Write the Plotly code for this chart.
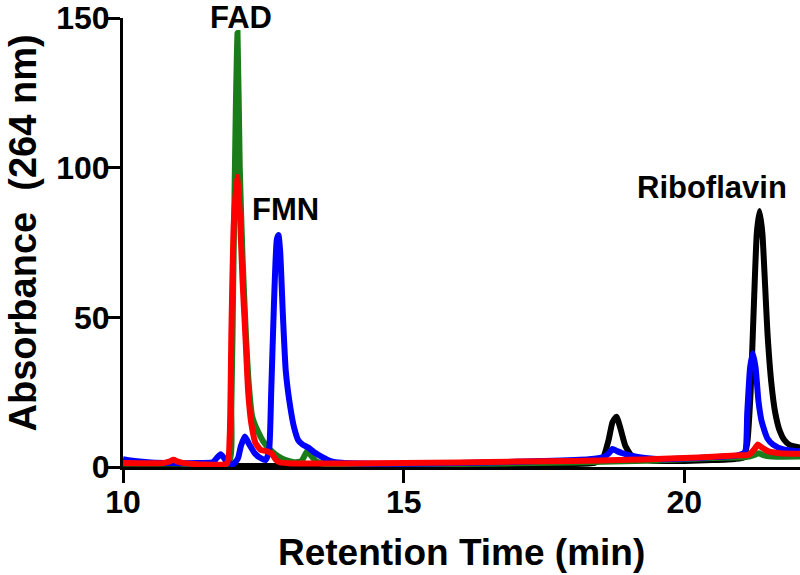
import plotly.graph_objects as go

# ---- data ----
black_x = [10, 11, 12, 13, 14, 15, 16, 17, 18, 18.4, 18.55, 18.65, 18.72, 18.79, 18.86, 18.95, 19.05, 19.2, 19.4,
           19.7, 20.0, 20.5, 20.9, 21.05, 21.12, 21.18, 21.24, 21.29, 21.34, 21.39, 21.44, 21.48, 21.55, 21.62,
           21.7, 21.78, 21.88, 22.06]
black_y = [0.3, 0.3, 0.3, 0.3, 0.4, 0.5, 0.6, 0.8, 1.0, 1.4, 3, 9, 15, 16.8, 13, 7, 4, 2.8, 2.2,
           2.0, 2.0, 2.3, 2.7, 3.2, 8, 25, 55, 78, 85.5, 78, 60, 45, 28, 18,
           12, 9, 7.3, 6.5]

green_x = [10, 11, 11.88, 11.93, 11.97, 12.01, 12.04, 12.08, 12.13, 12.19, 12.24, 12.3, 12.4, 12.5, 12.62, 12.75,
           12.9, 13.05, 13.18, 13.24, 13.29, 13.35, 13.45, 13.6, 14.5, 16, 18, 19.5, 20.5, 21.1, 21.25, 21.32,
           21.4, 21.55, 22.06]
green_y = [1.2, 1.2, 1.2, 20, 70, 120, 145, 100, 70, 44, 28, 17, 12, 8.5, 5.8, 3.8,
           2.3, 1.6, 2.0, 4.0, 5.5, 3.8, 1.8, 1.0, 0.9, 1.0, 1.5, 2.2, 3.0, 3.3, 4.0, 4.6,
           4.0, 3.5, 3.5]

blue_x = [10, 10.2, 10.5, 10.9, 11.3, 11.6, 11.67, 11.74, 11.8, 11.86, 11.97, 12.05, 12.1, 12.17, 12.25, 12.35,
          12.45, 12.54, 12.6, 12.64, 12.69, 12.74, 12.77, 12.8, 12.85, 12.9, 12.98, 13.05, 13.12, 13.2, 13.3,
          13.4, 13.55, 13.7, 13.9, 14.5, 15.5, 16.5, 17.5, 18.3, 18.55, 18.65, 18.72, 18.8, 18.9, 19.05, 19.3,
          19.6, 20.0, 20.5, 20.95, 21.08, 21.12, 21.17, 21.22, 21.27, 21.32, 21.38, 21.48, 21.58, 21.75, 22.06]
blue_y = [2.6, 2.0, 1.5, 1.3, 1.3, 1.6, 3.0, 4.3, 3.0, 1.4, 1.0, 3.0, 7.0, 10.2, 7.5, 4.5,
          3.0, 2.3, 5.0, 25, 55, 76, 77.5, 72, 50, 32, 20, 13, 9, 7.5, 6.5,
          5.0, 3.3, 2.0, 1.4, 1.1, 1.2, 1.5, 2.0, 2.6, 3.2, 4.5, 6.0, 5.3, 4.6, 3.8, 3.0,
          2.6, 2.8, 3.3, 3.9, 5.0, 18, 33, 38, 33, 22, 15, 9.5, 7.5, 6.0, 5.2]

red_x = [10, 10.7, 10.82, 10.9, 10.98, 11.1, 11.85, 11.9, 11.93, 11.97, 12.03, 12.08, 12.13, 12.18, 12.23, 12.29,
         12.36, 12.45, 12.57, 12.65, 12.72, 12.8, 13.0, 14, 15, 16, 17, 18, 19, 19.5, 20, 20.5, 21.0, 21.15,
         21.25, 21.31, 21.38, 21.5, 21.7, 22.06]
red_y = [1.3, 1.3, 1.8, 2.4, 1.8, 1.3, 1.2, 10, 44, 80, 97, 85, 62, 44, 25, 14,
         8, 5.8, 5.2, 4.5, 2.5, 1.5, 1.2, 1.2, 1.3, 1.5, 1.8, 2.0, 2.4, 2.7, 3.0, 3.4, 3.9, 4.1,
         6.0, 7.5, 6.5, 5.2, 4.6, 4.4]

x_ticks = [10, 15, 20]
y_ticks = [0, 50, 100, 150]

labels = ["FAD", "FMN", "Riboflavin"]
label_x = [12.11, 12.89, 20.5]
label_y = [149.5, 86, 93.3]
label_shift = [2, 0, 0]

FONT = "Liberation Sans, Arial, sans-serif"

fig = go.Figure()
for xs, ys, col in [(black_x, black_y, "#000000"),
                    (green_x, green_y, "#1a7d1a"),
                    (blue_x, blue_y, "#0000ff"),
                    (red_x, red_y, "#ff0000")]:
    fig.add_trace(go.Scatter(x=xs, y=ys, mode="lines",
                             line=dict(color=col, width=6, shape="spline", smoothing=0.5),
                             showlegend=False, hoverinfo="skip"))

for t, lx, ly, sh in zip(labels, label_x, label_y, label_shift):
    fig.add_annotation(x=lx, y=ly, text=f"<b>{t}</b>", showarrow=False, yshift=sh,
                       font=dict(family=FONT, size=31, color="black"))

fig.add_annotation(xref="paper", yref="paper", x=0.5, y=-0.19,
                   text="<b>Retention Time (min)</b>", showarrow=False,
                   xanchor="center", yanchor="middle",
                   font=dict(family=FONT, size=37, color="black"))
fig.add_annotation(xref="paper", yref="paper", x=-0.148, y=0.522,
                   text="<b>Absorbance  (264 nm)</b>", showarrow=False, textangle=-90,
                   xanchor="center", yanchor="middle",
                   font=dict(family=FONT, size=38, color="black"))

axis_common = dict(showline=True, linecolor="black", linewidth=3, ticks="outside",
                   ticklen=13, tickwidth=3, tickcolor="black", showgrid=False, zeroline=False,
                   ticklabeloverflow="allow",
                   tickfont=dict(family=FONT, size=32, color="black", weight="bold"))

fig.update_xaxes(range=[10, 22.06], tickvals=x_ticks, ticktext=[str(v) for v in x_ticks],
                 ticklabelstandoff=-8, **axis_common)
fig.update_yaxes(range=[0, 150], tickvals=y_ticks, ticktext=[str(v) for v in y_ticks],
                 ticklabelstandoff=-9, **axis_common)

fig.update_layout(width=800, height=575, plot_bgcolor="white", paper_bgcolor="white",
                  margin=dict(l=123, r=0, t=15, b=108))

fig.write_html("out.html", config={"displayModeBar": False},
               post_script="document.body.style.margin='0';")
